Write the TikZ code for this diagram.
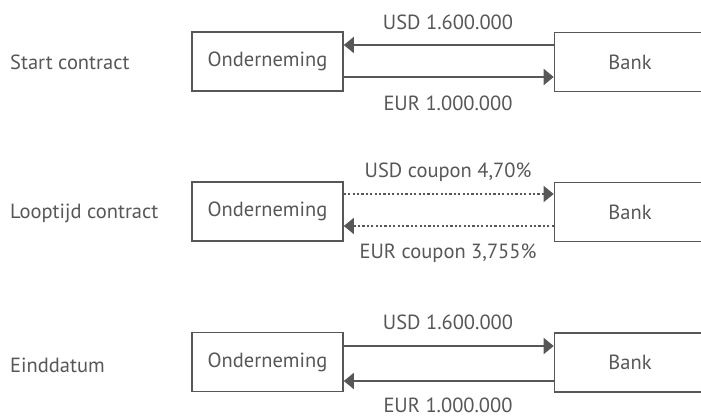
\documentclass[tikz,border=0pt]{standalone}
\usepackage{fontspec}
\setmainfont{PT Sans}
\usetikzlibrary{arrows.meta}
\definecolor{ink}{HTML}{575757}
\tikzset{
  party/.style={draw=ink, line width=1.6pt, minimum width=151pt, minimum height=59pt,
    inner sep=0pt, text=ink, font=\fontsize{20.5}{23}\selectfont},
  lbl/.style={text=ink, font=\fontsize{20.5}{23}\selectfont, inner sep=0pt},
  flow/.style={draw=ink, line width=1.7pt, -{Triangle[length=10pt,width=16pt]}},
  coupon/.style={flow, line width=1.4pt, dash pattern=on 2.2pt off 2.2pt},
}
\begin{document}
\begin{tikzpicture}[x=1pt,y=-1pt]
\useasboundingbox (0,0) rectangle (701,417);
\clip (0,0) rectangle (701,417);

% row 1: start of the contract
\node[lbl, anchor=west] (t1) at (10,62) {Start contract};
\node[party] (o1) at (267.5,61.5) {Onderneming};
\node[party] (b1) at (630,62) {Bank};
\draw[flow] (b1.west |- 0,45) -- (o1.east |- 0,45);
\draw[flow] (o1.east |- 0,77) -- (b1.west |- 0,77);
\node[lbl] (u1) at (448,22) {USD 1.600.000};
\node[lbl] (e1) at (448,103) {EUR 1.000.000};

% row 2: coupons during the term
\node[lbl, anchor=west] (t2) at (10,213) {Looptijd contract};
\node[party] (o2) at (267.5,211.5) {Onderneming};
\node[party] (b2) at (630,212) {Bank};
\draw[coupon] (o2.east |- 0,194) -- (b2.west |- 0,194);
\draw[coupon] (b2.west |- 0,226) -- (o2.east |- 0,226);
\node[lbl] (u2) at (448,172) {USD coupon 4,70\%};
\node[lbl] (e2) at (448,253) {EUR coupon 3,755\%};

% row 3: end date
\node[lbl, anchor=west] (t3) at (10,365) {Einddatum};
\node[party] (o3) at (267.5,362) {Onderneming};
\node[party] (b3) at (630,362.5) {Bank};
\draw[flow] (o3.east |- 0,346) -- (b3.west |- 0,346);
\draw[flow] (b3.west |- 0,381) -- (o3.east |- 0,381);
\node[lbl] (u3) at (448,322) {USD 1.600.000};
\node[lbl] (e3) at (448,405.5) {EUR 1.000.000};
\end{tikzpicture}
\end{document}
